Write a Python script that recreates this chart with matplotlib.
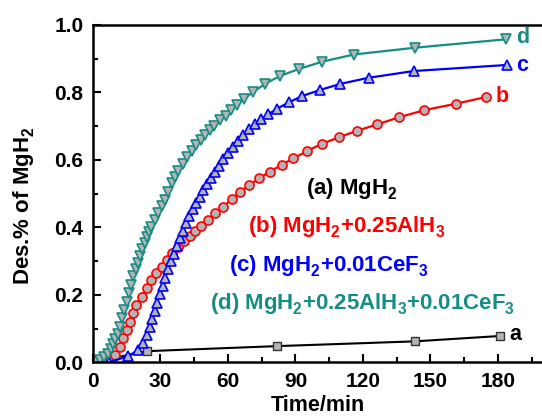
import numpy as np
import matplotlib
matplotlib.use("Agg")
import matplotlib.pyplot as plt
from matplotlib.ticker import MultipleLocator

plt.rcParams['font.family'] = ['Liberation Sans', 'DejaVu Sans']
plt.rcParams['font.weight'] = 'bold'
plt.rcParams['mathtext.fontset'] = 'custom'
plt.rcParams['mathtext.rm'] = 'Liberation Sans:bold'
plt.rcParams['mathtext.bf'] = 'Liberation Sans:bold'
plt.rcParams['mathtext.default'] = 'bf'

# push subscripts a bit lower, like the Origin-style labels
try:
    from matplotlib import _mathtext
    _mathtext.FontConstantsBase.sub1 = 0.45
    _mathtext.FontConstantsBase.sub2 = 0.6
except Exception:
    pass

# (a) MgH2
a_t = [0, 24, 82, 143, 181]
a_v = [0.0, 0.033, 0.048, 0.062, 0.078]

# (b) MgH2+0.25AlH3
b_t = [1, 5, 8, 9.7, 11.9, 13.4, 14.9, 16.4, 17.8, 19.3, 21.6, 23.8, 26, 28.2,
       30.5, 32.7, 35.2, 37.8, 40.6, 43.2, 45.5, 48, 51, 54.2, 57.9, 61.6, 65.3,
       69.4, 73.9, 78.6, 83.8, 89, 95.2, 101.6, 109.4, 117.4, 126.3, 136.1,
       147.2, 161.3, 174.7]
b_v = [0.0, 0.004, 0.012, 0.022, 0.046, 0.071, 0.096, 0.12, 0.145, 0.17, 0.194,
       0.219, 0.244, 0.264, 0.283, 0.303, 0.323, 0.343, 0.36, 0.375, 0.39, 0.405,
       0.422, 0.441, 0.461, 0.483, 0.505, 0.525, 0.545, 0.565, 0.585, 0.604,
       0.626, 0.647, 0.667, 0.686, 0.705, 0.726, 0.747, 0.766, 0.786]

# (c) MgH2+0.01CeF3
c_t = [7, 15.6, 20, 22.3, 23.8, 25.3, 26.4, 27.5, 28.6, 29.7, 30.9, 32.1, 33.3,
       34.6, 35.9, 37.2, 38.6, 40, 41.4, 42.8, 44.3, 45.8, 47.4, 49, 50.7, 52.4,
       54.2, 56, 58, 60, 62.2, 64.5, 66.8, 69.3, 71.8, 74.5, 78, 82, 87, 93, 101,
       110, 122.5, 142.5, 184]
c_v = [0.0, 0.018, 0.036, 0.056, 0.08, 0.104, 0.128, 0.153, 0.177, 0.202, 0.227,
       0.251, 0.275, 0.30, 0.322, 0.345, 0.367, 0.39, 0.412, 0.433, 0.453, 0.472,
       0.49, 0.51, 0.528, 0.546, 0.565, 0.583, 0.602, 0.62, 0.638, 0.656, 0.673,
       0.69, 0.705, 0.72, 0.735, 0.752, 0.77, 0.789, 0.807, 0.825, 0.843, 0.863,
       0.881]

# (d) MgH2+0.25AlH3+0.01CeF3
d_t = [1, 3, 5, 6.5, 8, 9, 10, 11, 12, 13, 14, 15, 16, 17, 18, 19, 20, 21, 22, 23,
       24, 25, 26, 27.5, 29, 30.5, 32, 33.5, 35, 36.5, 38, 40, 42, 44, 46, 48, 50,
       52, 54, 56.5, 59, 61.5, 64, 67, 71, 76.5, 83, 91.5, 102, 116, 143, 183.5]
d_v = [0.0, 0.008, 0.015, 0.025, 0.04, 0.055, 0.07, 0.085, 0.105, 0.13, 0.155,
       0.18, 0.205, 0.23, 0.255, 0.275, 0.295, 0.315, 0.335, 0.353, 0.37, 0.386,
       0.40, 0.422, 0.443, 0.462, 0.482, 0.505, 0.53, 0.55, 0.567, 0.588, 0.608,
       0.627, 0.643, 0.658, 0.673, 0.688, 0.701, 0.717, 0.731, 0.748, 0.763,
       0.78, 0.80, 0.825, 0.848, 0.869, 0.891, 0.912, 0.932, 0.957]

red = '#ff0000'
blue = '#0000ff'
teal = '#168c86'
grey = '#b4b4b4'

fig = plt.figure(figsize=(5.42, 4.18), dpi=100)
ax = fig.add_axes([93 / 542, 1 - 362.3 / 418, 449 / 542, 337.5 / 418])

ax.plot(a_t, a_v, '-s', color='black', lw=1.5, ms=5.5, mfc=grey, mec='#333333', mew=1.0)
ax.plot(b_t, b_v, '-o', color=red, lw=1.6, ms=6.5, mfc=grey, mec=red, mew=1.2)
ax.plot(c_t, c_v, '-^', color=blue, lw=1.6, ms=7.2, mfc=grey, mec=blue, mew=1.2)
ax.plot(d_t, d_v, '-v', color=teal, lw=1.6, ms=7.2, mfc=grey, mec=teal, mew=1.2)

# curve letters
ax.text(188.0, 0.962, 'd', color=teal, fontsize=15.5, fontweight='bold', va='center')
ax.text(188.0, 0.878, 'c', color=blue, fontsize=15.5, fontweight='bold', va='center')
ax.text(179.0, 0.789, 'b', color=red, fontsize=15.5, fontweight='bold', va='center')
ax.text(185.0, 0.081, 'a', color='black', fontsize=15.5, fontweight='bold', va='center')

# sample labels
lab = dict(fontsize=16, fontweight='bold')
ax.text(94.5, 0.496, '(a) MgH$_2$', color='black', **lab)
ax.text(69, 0.383, '(b) MgH$_2$+0.25AlH$_3$', color=red, **lab)
ax.text(60.5, 0.270, '(c) MgH$_2$+0.01CeF$_3$', color=blue, **lab)
ax.text(52, 0.157, '(d) MgH$_2$+0.25AlH$_3$+0.01CeF$_3$', color=teal, **lab)

ax.set_xlim(0, 199.6)
ax.set_ylim(0, 1.0)
ax.xaxis.set_major_locator(MultipleLocator(30))
ax.xaxis.set_minor_locator(MultipleLocator(15))
ax.yaxis.set_major_locator(MultipleLocator(0.2))
ax.yaxis.set_minor_locator(MultipleLocator(0.1))
ax.yaxis.set_major_formatter(plt.FormatStrFormatter('%.1f'))

ax.tick_params(which='major', direction='in', length=6, width=1.5, labelsize=15, pad=7)
ax.tick_params(which='minor', direction='in', length=3.5, width=1.5)
ax.tick_params(top=False, right=False)
for s in ['left', 'bottom', 'top']:
    ax.spines[s].set_linewidth(1.8)
ax.spines['right'].set_visible(False)

ax.set_xlabel('Time/min', fontsize=15.5, fontweight='bold')
ax.set_ylabel('Des.% of MgH$_2$', fontsize=16, fontweight='bold')
ax.xaxis.set_label_coords(0.5, -0.098)
ax.yaxis.set_label_coords(-0.125, 0.463)

fig.savefig('out.png', dpi=100)
